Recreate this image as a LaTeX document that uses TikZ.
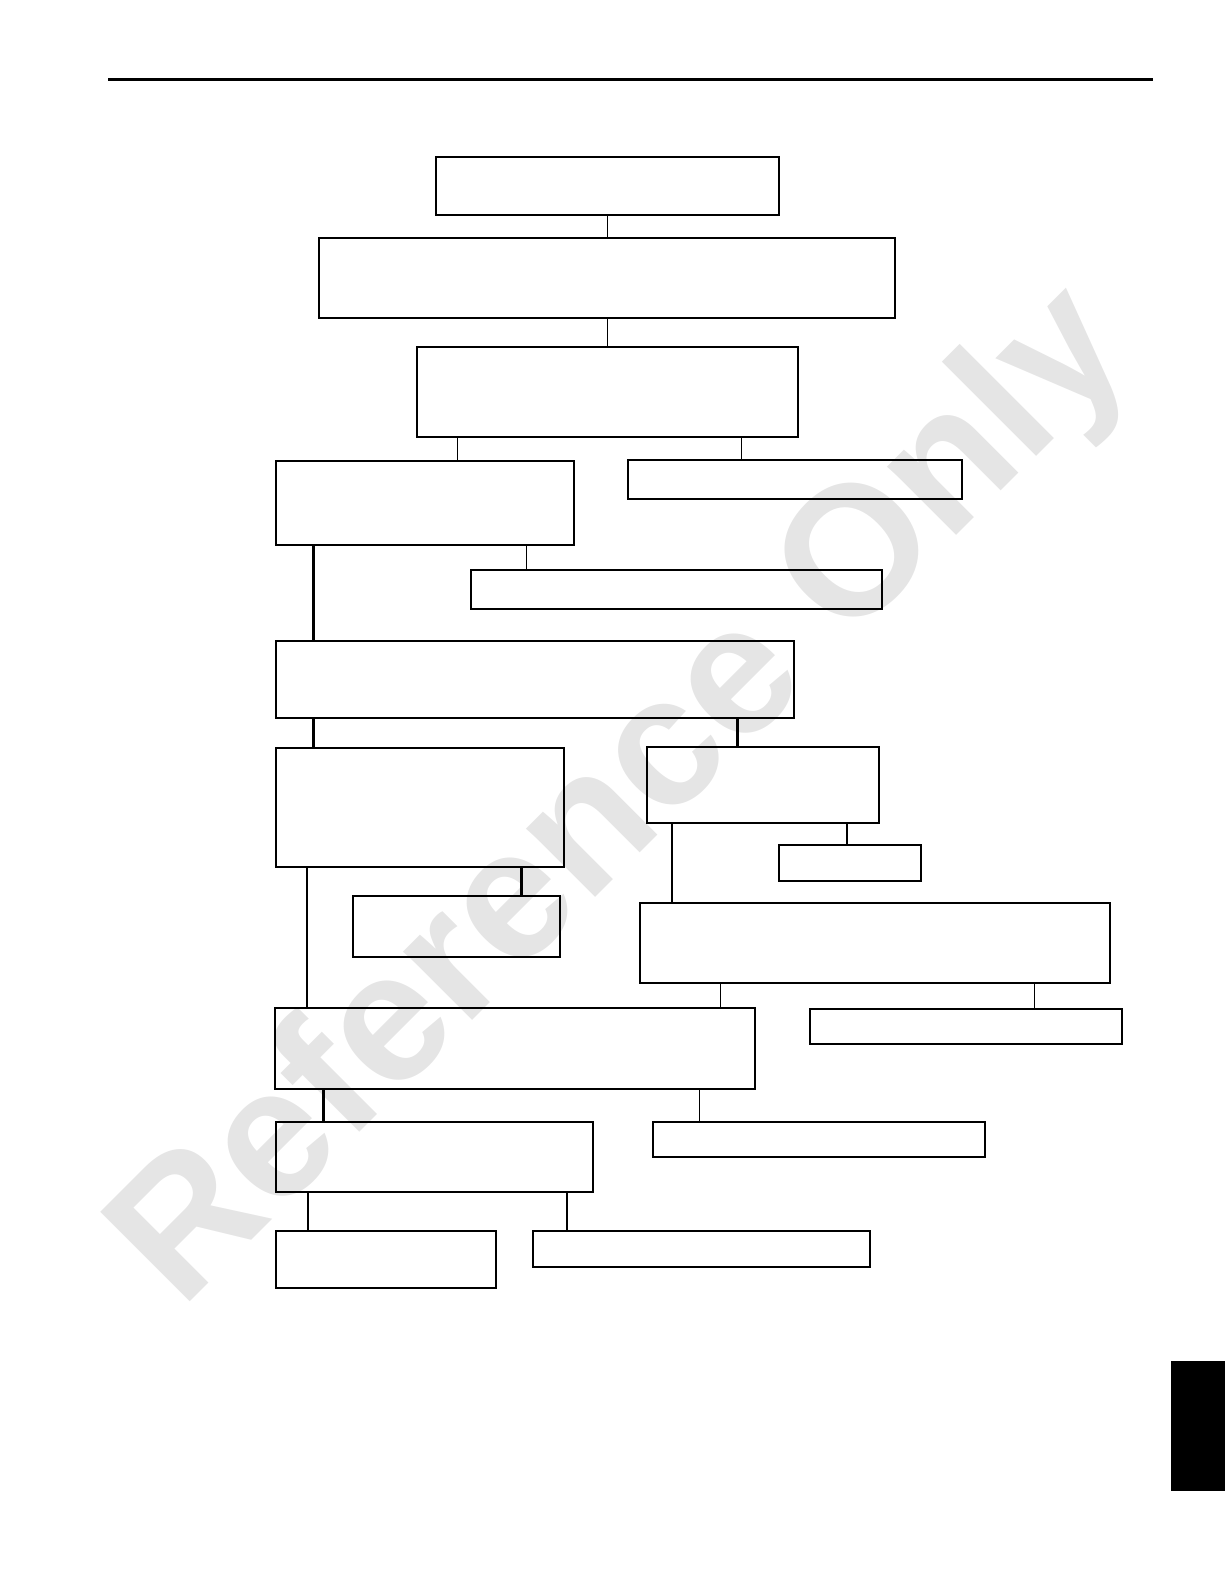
\documentclass[tikz,border=0pt]{standalone}
\usepackage{fontspec}
\usepackage{tikz}
\usetikzlibrary{fit}
\newfontfamily\wmfont{Liberation Sans}
\definecolor{wmgray}{gray}{0.9}

\begin{document}
\begin{tikzpicture}[x=0.50525pt, y=-0.50525pt,
    box/.style={draw, line width=1pt, inner sep=0pt},
    link/.style={line width=0.7pt},
    midlink/.style={line width=1pt},
    trunk/.style={line width=1.3pt}]

    % --- 0. Page frame ---
    \useasboundingbox (0,0) rectangle (1211.3,1567.5);

    % Watermark, behind everything
    \node[wmgray, rotate=45, anchor=base, inner sep=0pt] (mark) at (652,825)
        {\wmfont\bfseries\fontsize{92}{92}\selectfont Reference Only};

    % Header rule and side tab
    \draw[line width=1.4pt] (107,79) -- (1141,79);
    \fill[black] (1159,1347) rectangle (1212,1475);

    % --- 1. Top of the chart ---
    \node[box, fit={(431,155) (771,213)}] (b1) {};
    \node[box, fit={(316,236) (886,315)}] (b2) {};
    \node[box, fit={(413,343) (790,432)}] (b3) {};

    \draw[link] (b1.south -| 601,0) -- (b2.north -| 601,0);
    \draw[link] (b2.south -| 601,0) -- (b3.north -| 601,0);

    % --- 2. First split ---
    \node[box, fit={(273,456) (568,539)}] (b4) {};
    \node[box, fit={(621,455) (952,494)}] (b5) {};
    \node[box, fit={(466,564) (873,603)}] (b6) {};

    \draw[link] (b3.south -| 453,0) -- (b4.north -| 453,0);
    \draw[link] (b3.south -| 734,0) -- (b5.north -| 734,0);
    \draw[link] (b4.south -| 521,0) -- (b6.north -| 521,0);

    % --- 3. Middle block ---
    \node[box, fit={(273,634) (786,711)}] (b7) {};
    \node[box, fit={(273,740) (558,858)}] (b8) {};
    \node[box, fit={(640,739) (870,814)}] (b9) {};
    \node[box, fit={(771,836) (911,872)}] (b10) {};
    \node[box, fit={(349,887) (554,947)}] (b11) {};
    \node[box, fit={(633,894) (1098,973)}] (b12) {};

    \draw[trunk] (b4.south -| 310,0) -- (b7.north -| 310,0);
    \draw[trunk] (b7.south -| 310,0) -- (b8.north -| 310,0);
    \draw[trunk] (b7.south -| 730,0) -- (b9.north -| 730,0);
    \draw[link] (b9.south -| 838,0) -- (b10.north -| 838,0);
    \draw[trunk] (b8.south -| 516,0) -- (b11.north -| 516,0);
    \draw[midlink] (b9.south -| 665,0) -- (b12.north -| 665,0);

    % --- 4. Lower block ---
    \node[box, fit={(272,997) (747,1078)}] (b13) {};
    \node[box, fit={(802,998) (1110,1033)}] (b14) {};
    \node[box, fit={(273,1110) (587,1180)}] (b15) {};
    \node[box, fit={(646,1110) (975,1145)}] (b16) {};
    \node[box, fit={(273,1218) (491,1275)}] (b17) {};
    \node[box, fit={(527,1218) (861,1254)}] (b18) {};

    \draw[midlink] (b8.south -| 304,0) -- (b13.north -| 304,0);
    \draw[link] (b12.south -| 713,0) -- (b13.north -| 713,0);
    \draw[link] (b12.south -| 1024,0) -- (b14.north -| 1024,0);
    \draw[trunk] (b13.south -| 320,0) -- (b15.north -| 320,0);
    \draw[link] (b13.south -| 692,0) -- (b16.north -| 692,0);
    \draw[midlink] (b15.south -| 305,0) -- (b17.north -| 305,0);
    \draw[link] (b15.south -| 561,0) -- (b18.north -| 561,0);

\end{tikzpicture}
\end{document}
